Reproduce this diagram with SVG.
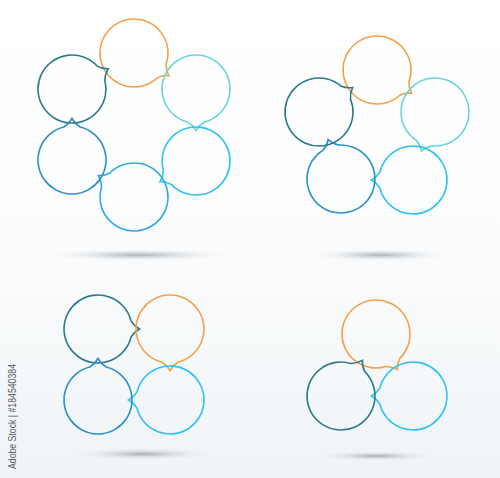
<svg xmlns="http://www.w3.org/2000/svg" xmlns:xlink="http://www.w3.org/1999/xlink" width="500" height="478" viewBox="0 0 500 478">
<defs>
<linearGradient id="bg" x1="0" y1="0" x2="0" y2="1">
<stop offset="0" stop-color="#ffffff"/>
<stop offset="0.5" stop-color="#fbfcfd"/>
<stop offset="1" stop-color="#f0f4f6"/>
</linearGradient>
<radialGradient id="sh">
<stop offset="0" stop-color="#8a9196" stop-opacity="0.7"/>
<stop offset="0.5" stop-color="#b9bfc3" stop-opacity="0.35"/>
<stop offset="1" stop-color="#e6eaed" stop-opacity="0"/>
</radialGradient>
<path id="b" d="M 33.0 8.2 A 34 34 0 1 1 33.0 -8.2 Q 36 -3 41.5 0 Q 36 3 33.0 8.2 Z"/>
</defs>
<style>
.bub{fill:none;stroke-width:1.6;stroke-linejoin:miter}
.or{stroke:#f5a04b}
.lt{stroke:#6fd3de}
.dt{stroke:#2b7a8c}
.bl{stroke:#2a8fc8}
.mb{stroke:#2fa9e3}
.lb{stroke:#2ec3f0}
.tag{font-family:"Liberation Sans",Arial,sans-serif;font-size:11px;fill:#55595d}
</style>
<rect x="0" y="0" width="500" height="478" fill="url(#bg)"/>

<g id="shadows">
<ellipse cx="138" cy="255" rx="92" ry="6" fill="url(#sh)"/>
<ellipse cx="380" cy="255" rx="70" ry="6" fill="url(#sh)"/>
<ellipse cx="143" cy="454" rx="70" ry="6" fill="url(#sh)"/>
<ellipse cx="376" cy="456" rx="62" ry="5" fill="url(#sh)"/>
</g>

<g id="diagram-hexagon">
<g id="h-orange"><use xlink:href="#b" href="#b" class="bub or" transform="translate(134,53) rotate(33)"/></g>
<g id="h-lightteal"><use xlink:href="#b" href="#b" class="bub lt" transform="translate(196,89) rotate(90)"/></g>
<g id="h-lightblue"><use xlink:href="#b" href="#b" class="bub lb" transform="translate(196,161) rotate(150)"/></g>
<g id="h-midblue"><use xlink:href="#b" href="#b" class="bub mb" transform="translate(134,197) rotate(211)"/></g>
<g id="h-blue"><use xlink:href="#b" href="#b" class="bub bl" transform="translate(72,160) rotate(270)"/></g>
<g id="h-darkteal"><use xlink:href="#b" href="#b" class="bub dt" transform="translate(72,89) rotate(331)"/></g>
</g>

<g id="diagram-pentagon">
<g id="p-orange"><use xlink:href="#b" href="#b" class="bub or" transform="translate(377,70) rotate(34)"/></g>
<g id="p-lightteal"><use xlink:href="#b" href="#b" class="bub lt" transform="translate(435,112) rotate(109)"/></g>
<g id="p-lightblue"><use xlink:href="#b" href="#b" class="bub lb" transform="translate(413,180) rotate(180)"/></g>
<g id="p-blue"><use xlink:href="#b" href="#b" class="bub bl" transform="translate(341,179) rotate(252)"/></g>
<g id="p-darkteal"><use xlink:href="#b" href="#b" class="bub dt" transform="translate(319,112) rotate(324)"/></g>
</g>

<g id="diagram-square">
<g id="s-darkteal"><use xlink:href="#b" href="#b" class="bub dt" transform="translate(98,329) rotate(0)"/></g>
<g id="s-orange"><use xlink:href="#b" href="#b" class="bub or" transform="translate(170,329) rotate(90)"/></g>
<g id="s-lightblue"><use xlink:href="#b" href="#b" class="bub lb" transform="translate(170,400) rotate(180)"/></g>
<g id="s-blue"><use xlink:href="#b" href="#b" class="bub bl" transform="translate(98,400) rotate(270)"/></g>
</g>

<g id="diagram-triangle">
<g id="t-orange"><use xlink:href="#b" href="#b" class="bub or" transform="translate(376,334) rotate(59)"/></g>
<g id="t-lightblue"><use xlink:href="#b" href="#b" class="bub lb" transform="translate(413,396) rotate(180)"/></g>
<g id="t-darkteal"><use xlink:href="#b" href="#b" class="bub dt" transform="translate(341,396) rotate(301)"/></g>
</g>

<g id="connectors"></g>

<text class="tag" transform="translate(16,469) rotate(-90)" textLength="105" lengthAdjust="spacingAndGlyphs">Adobe Stock | #184540384</text>
</svg>
